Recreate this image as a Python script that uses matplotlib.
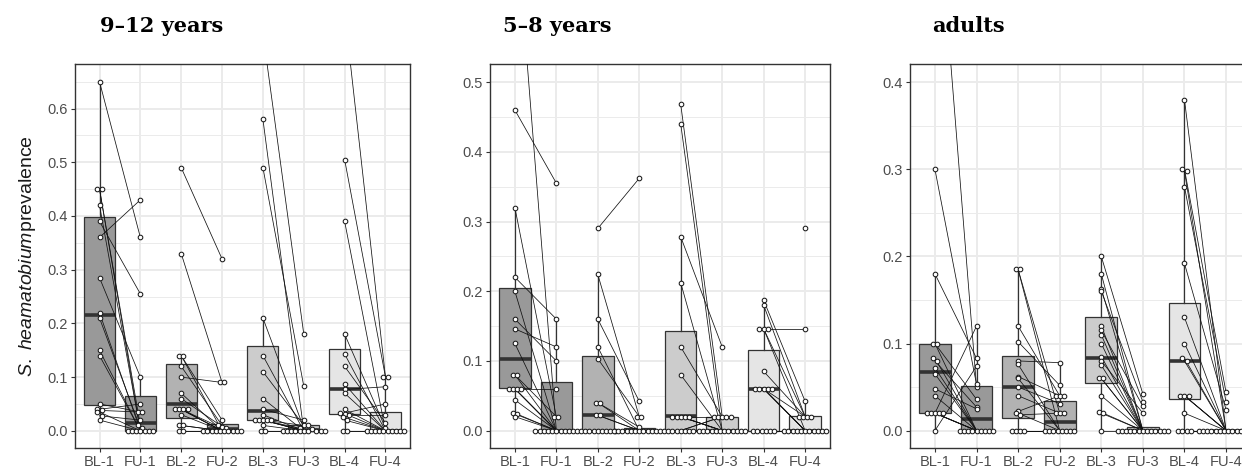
import matplotlib.pyplot as plt
import numpy as np
from matplotlib.ticker import FormatStrFormatter, MultipleLocator

plt.rcParams["font.family"] = ["Liberation Sans", "DejaVu Sans"]
plt.rcParams["mathtext.fontset"] = "custom"
plt.rcParams["mathtext.it"] = "Liberation Sans:italic"
plt.rcParams["mathtext.rm"] = "Liberation Sans"

nan = float("nan")

categories = ["BL-1", "FU-1", "BL-2", "FU-2", "BL-3", "FU-3", "BL-4", "FU-4"]
titles = ["9\u201312 years", "5\u20138 years", "adults"]
box_fill = ["#999999", "#B2B2B2", "#CCCCCC", "#E5E5E5"]

# paired site prevalences per round: baseline (BL) and follow-up (FU), same order
bl_9_12 = [
    [0.65, 0.45, 0.45, 0.42, 0.39, 0.36, 0.285, 0.22, 0.21, 0.15, 0.14, 0.05, 0.04, 0.038, 0.035, 0.028, 0.02],
    [0.49, 0.33, 0.14, 0.14, 0.12, 0.1, 0.07, 0.06, 0.04, 0.04, 0.04, 0.04, 0.03, 0.01, 0.01, 0.0, 0.0],
    [0.74, 0.58, 0.49, 0.21, 0.14, 0.11, 0.06, 0.04, 0.03, 0.02, 0.02, 0.02, 0.02, 0.02, 0.01, 0.0, 0.0],
    [0.78, 0.505, 0.39, 0.18, 0.143, 0.12, 0.087, 0.077, 0.07, 0.04, 0.033, 0.032, 0.03, 0.025, 0.02, 0.0, 0.0],
]
fu_9_12 = [
    [0.36, 0.0, 0.01, 0.0, 0.255, 0.43, 0.1, 0.0, 0.005, 0.0, 0.0, 0.035, 0.05, 0.035, 0.0, 0.02, 0.0],
    [0.32, 0.09, 0.02, 0.0, 0.01, 0.09, 0.0, 0.008, 0.0, 0.005, 0.0, 0.0, 0.0, 0.0, 0.0, 0.0, 0.0],
    [0.18, 0.0, 0.083, 0.005, 0.0, 0.01, 0.0, 0.02, 0.0, 0.0, 0.01, 0.0, 0.0, 0.003, 0.0, 0.0, 0.0],
    [0.1, 0.1, 0.0, 0.005, 0.0, 0.015, 0.0, 0.082, 0.0, 0.0, 0.05, 0.0, 0.03, 0.0, 0.0, 0.0, 0.0],
]
bl_5_8 = [
    [0.75, 0.46, 0.32, 0.22, 0.2, 0.16, 0.146, 0.125, 0.08, 0.08, 0.06, 0.06, 0.06, 0.06, 0.044, 0.025, 0.024, 0.02],
    [0.29, 0.224, 0.16, 0.12, 0.103, 0.04, 0.04, 0.022, 0.022, 0.0, 0.0, 0.0, 0.0, 0.0, 0.0, 0.0, 0.0, 0.0],
    [0.468, 0.44, 0.278, 0.212, 0.12, 0.08, 0.02, 0.02, 0.02, 0.02, 0.02, 0.0, 0.0, 0.0, 0.0, 0.0, 0.0, 0.0],
    [0.187, 0.18, 0.146, 0.146, 0.146, 0.085, 0.06, 0.06, 0.06, 0.06, 0.06, nan, 0.0, 0.0, 0.0, 0.0, 0.0, 0.0],
]
fu_5_8 = [
    [0.0, 0.355, 0.02, 0.16, 0.0, 0.1, 0.12, 0.0, 0.02, 0.0, 0.06, 0.0, 0.0, 0.0, 0.0, 0.0, 0.0, 0.0],
    [0.362, 0.02, 0.042, 0.0, 0.02, 0.0, 0.005, 0.0, 0.0, 0.0, 0.0, 0.0, 0.0, 0.0, 0.0, 0.0, 0.0, 0.0],
    [0.02, 0.0, 0.12, 0.0, 0.02, 0.0, 0.02, 0.0, 0.0, 0.0, 0.0, 0.02, 0.02, 0.0, 0.0, 0.0, 0.0, 0.0],
    [0.042, 0.02, 0.146, 0.0, 0.02, 0.02, 0.02, 0.0, 0.0, 0.0, 0.0, 0.29, 0.0, 0.0, 0.0, 0.0, 0.0, 0.0],
]
bl_adults = [
    [0.65, 0.3, 0.18, 0.1, 0.1, 0.083, 0.08, 0.072, 0.065, 0.048, 0.04, 0.02, 0.02, 0.02, 0.02, 0.02, 0.0],
    [0.185, 0.185, 0.12, 0.102, 0.08, 0.076, 0.062, 0.06, 0.05, 0.04, 0.022, 0.02, 0.018, 0.0, 0.0, 0.0, 0.0],
    [0.2, 0.18, 0.163, 0.16, 0.12, 0.115, 0.11, 0.1, 0.085, 0.08, 0.075, 0.06, 0.06, 0.04, 0.021, 0.02, 0.0],
    [0.38, 0.3, 0.298, 0.28, 0.192, 0.13, 0.1, 0.083, 0.08, 0.04, 0.04, 0.04, 0.02, 0.0, 0.0, 0.0, 0.0],
]
fu_adults = [
    [0.05, 0.053, 0.083, 0.036, 0.0, 0.0, 0.027, 0.0, 0.0, 0.025, 0.0, 0.12, 0.0, 0.0, 0.0, 0.0, 0.074],
    [0.0, 0.02, 0.04, 0.052, 0.078, 0.0, 0.04, 0.0, 0.031, 0.02, 0.04, 0.0, 0.02, 0.0, 0.0, 0.0, 0.0],
    [0.042, 0.0, 0.0, 0.033, 0.0, 0.028, 0.0, 0.0, 0.0, 0.02, 0.0, 0.0, 0.0, 0.0, 0.0, 0.0, 0.0],
    [0.0, 0.044, 0.0, 0.033, 0.024, 0.0, 0.0, 0.0, 0.0, 0.0, 0.0, 0.0, 0.0, 0.0, 0.0, 0.0, 0.0],
]

# box statistics as drawn (hinges, median, whisker ends) per category
lo_9_12 = [0.02, 0, 0, 0, 0, 0, 0, 0]
q1_9_12 = [0.048, 0, 0.024, 0, 0.021, 0, 0.031, 0]
med_9_12 = [0.215, 0.015, 0.05, 0.003, 0.036, 0.002, 0.077, 0.0]
q3_9_12 = [0.399, 0.064, 0.125, 0.013, 0.158, 0.01, 0.152, 0.035]
hi_9_12 = [0.65, 0.1, 0.14, 0.02, 0.21, 0.02, 0.18, 0.1]

lo_5_8 = [0.02, 0, 0, 0, 0, 0, 0, 0]
q1_5_8 = [0.061, 0, 0, 0, 0, 0, 0, 0]
med_5_8 = [0.103, 0, 0.022, 0, 0.021, 0, 0.06, 0]
q3_5_8 = [0.205, 0.07, 0.107, 0.004, 0.143, 0.02, 0.116, 0.021]
hi_5_8 = [0.32, 0.16, 0.224, 0.005, 0.278, 0.02, 0.187, 0.042]

lo_adults = [0, 0, 0, 0, 0, 0, 0, 0]
q1_adults = [0.02, 0, 0.015, 0, 0.055, 0, 0.036, 0]
med_adults = [0.067, 0.013, 0.05, 0.01, 0.083, 0, 0.08, 0]
q3_adults = [0.1, 0.051, 0.086, 0.034, 0.13, 0.004, 0.146, 0]
hi_adults = [0.18, 0.12, 0.185, 0.078, 0.2, 0.004, 0.38, 0]

y_bottom = [-0.032, -0.025, -0.02]
y_top = [0.683, 0.526, 0.421]

W, H = 1242, 473
# axes boxes in pixels: left, top, width, height
panel_px = [(75, 64, 335, 384), (490, 64, 340, 384), (910, 64, 341, 384)]
title_x_px = [100, 503, 932]


def swarm_offsets(vals, px_per_y, step):
    # rows of equal-ish values spread side by side, centred on the category
    bins = np.round(np.asarray(vals) * px_per_y / step).astype(int)
    off = np.zeros(len(vals))
    for b in np.unique(bins):
        idx = np.where(bins == b)[0]
        off[idx] = (np.arange(len(idx)) - (len(idx) - 1) / 2) * step
    return off


def draw_panel(ax, bl, fu, lo, q1, med, q3, hi, ybot, ytop, wpx, hpx):
    pos = np.arange(1, 9)
    stats = [
        dict(whislo=lo[i], q1=q1[i], med=med[i], q3=q3[i], whishi=hi[i], fliers=[])
        for i in range(8)
    ]
    bp = ax.bxp(
        stats, positions=pos, widths=0.76, patch_artist=True,
        showfliers=False, showcaps=False,
        boxprops=dict(edgecolor="#333333", linewidth=0.9),
        whiskerprops=dict(color="#333333", linewidth=0.9),
        medianprops=dict(color="#333333", linewidth=2.6, solid_capstyle="butt"),
    )
    for i, box in enumerate(bp["boxes"]):
        box.set_facecolor(box_fill[i // 2])
        box.set_zorder(2)
    for art in bp["whiskers"] + bp["medians"]:
        art.set_zorder(2.1)

    # site trajectories BL -> FU
    for r in range(4):
        for b, f in zip(bl[r], fu[r]):
            if np.isnan(b) or np.isnan(f):
                continue
            ax.plot([2 * r + 1, 2 * r + 2], [b, f], color="#111111", lw=0.55, zorder=3)

    px_x = wpx / 8.2
    px_y = hpx / (ytop - ybot)
    for r in range(4):
        for k, vals in ((2 * r + 1, bl[r]), (2 * r + 2, fu[r])):
            v = np.array([x for x in vals if not np.isnan(x)])
            off = swarm_offsets(v, px_y, 4.2)
            ax.scatter(k + off / px_x, v, s=11, facecolor="white",
                       edgecolor="#1a1a1a", linewidths=0.75, zorder=4)

    ax.set_xlim(0.4, 8.6)
    ax.set_ylim(ybot, ytop)
    ax.set_xticks(pos, categories)
    ax.yaxis.set_major_locator(MultipleLocator(0.1))
    ax.yaxis.set_minor_locator(MultipleLocator(0.05))
    ax.yaxis.set_major_formatter(FormatStrFormatter("%.1f"))
    ax.set_axisbelow(True)
    ax.grid(which="major", color="#EBEBEB", lw=1.4)
    ax.grid(which="minor", axis="y", color="#EBEBEB", lw=0.7)
    ax.tick_params(which="major", length=3, width=0.8, color="#333333",
                   labelcolor="#4D4D4D", labelsize=10.5, pad=2)
    ax.tick_params(which="minor", length=0)
    for sp in ax.spines.values():
        sp.set_color("#333333")
        sp.set_linewidth(1.0)


fig = plt.figure(figsize=(W / 100, H / 100), dpi=100)

panels = [
    (bl_9_12, fu_9_12, lo_9_12, q1_9_12, med_9_12, q3_9_12, hi_9_12),
    (bl_5_8, fu_5_8, lo_5_8, q1_5_8, med_5_8, q3_5_8, hi_5_8),
    (bl_adults, fu_adults, lo_adults, q1_adults, med_adults, q3_adults, hi_adults),
]

for i, (data, rect) in enumerate(zip(panels, panel_px)):
    l, t, w, h = rect
    ax = fig.add_axes([l / W, 1 - (t + h) / H, w / W, h / H])
    draw_panel(ax, *data, y_bottom[i], y_top[i], w, h)
    fig.text(title_x_px[i] / W, 1 - 32 / H, titles[i], family="DejaVu Serif",
             weight="bold", fontsize=15, ha="left", va="baseline")
    if i == 0:
        ax.set_ylabel(r"$\it{S.\ heamatobium}$prevalence", fontsize=14,
                      color="#1a1a1a", labelpad=7)

fig.savefig("out.png", dpi=100)
